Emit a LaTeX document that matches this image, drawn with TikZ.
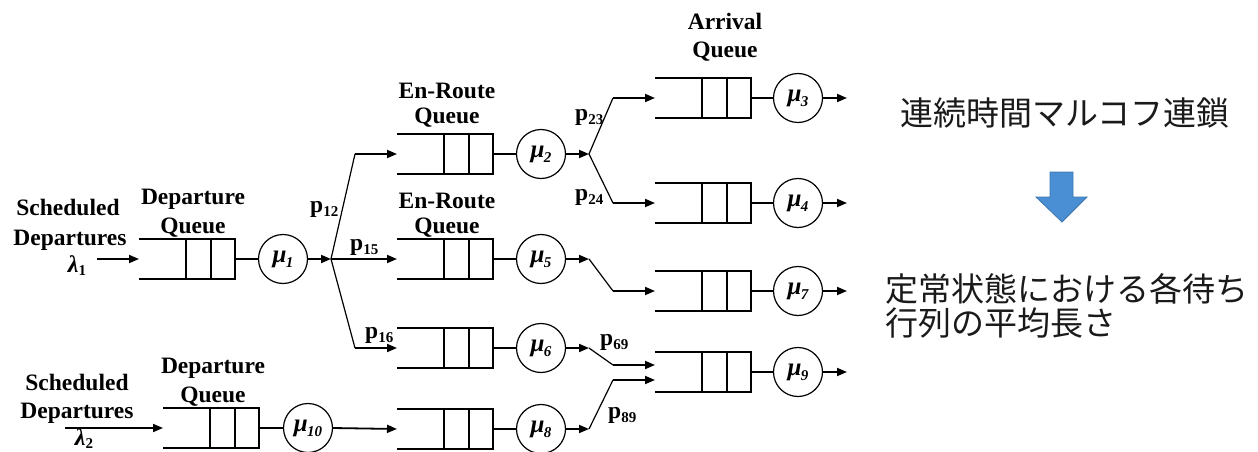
\documentclass[tikz,border=0pt]{standalone}
\usepackage{fontspec}
\setmainfont{Liberation Serif}
\newfontfamily\cjk{Noto Sans CJK JP}
\usetikzlibrary{arrows.meta}
\definecolor{arrowblue}{HTML}{4A8FD4}
\definecolor{arrowedge}{HTML}{3C76AE}
\definecolor{jptext}{HTML}{1A1A1A}
% server label: bold italic mu with a lowered index
\newcommand\srvlabel[1]{μ\kern-0.5pt\raisebox{-5pt}{\fontsize{15}{15}\selectfont #1}}
\newcommand\problabel[1]{p\raisebox{-4pt}{\fontsize{15}{15}\selectfont #1}}
\begin{document}
\begin{tikzpicture}[x=1pt,y=-1pt,
  qbox/.style={minimum width=96pt, minimum height=40pt, inner sep=0pt, outer sep=0pt},
  qline/.style={line width=1.3pt},
  server/.style={circle, draw, line width=1.2pt, minimum size=49pt, inner sep=0pt,
    outer sep=0pt, font=\fontsize{25}{25}\selectfont\bfseries\itshape},
  link/.style={line width=1.2pt},
  flow/.style={line width=1.8pt, -{Triangle[length=10pt,width=8pt]}},
  lbl/.style={font=\fontsize{23.5}{28}\selectfont\bfseries, inner sep=0pt, anchor=base},
  prob/.style={font=\fontsize{23.5}{28}\selectfont\bfseries, inner sep=0pt, anchor=base west},
  lam/.style={font=\fontsize{24}{24}\selectfont\bfseries, inner sep=0pt, anchor=base},
  jp/.style={font=\cjk\fontsize{33}{36}\selectfont, text=jptext, inner sep=0pt}]
\useasboundingbox (0,0) rectangle (1258,452);
\clip (0,0) rectangle (1258,452);

% queues: open on the left, two dividers near the server side
\foreach \n/\x/\y in {dq1/187/259, dq2/211/428, eq2/445/154, eq5/445/259,
    eq6/445/348, eq8/445/429, aq3/703/98, aq4/703/203, aq7/703/291, aq9/703/372} {
  \node[qbox] (\n) at (\x,\y) {};
  \draw[qline] (\n.north west) -- (\n.north east) -- (\n.south east) -- (\n.south west);
  \draw[qline] ([xshift=47pt]\n.north west) -- ([xshift=47pt]\n.south west)
               ([xshift=72pt]\n.north west) -- ([xshift=72pt]\n.south west);
}

% servers
\node[server] (s1)  at (283,259) {\srvlabel{1}};
\node[server] (s10) at (308,428) {\srvlabel{10}};
\node[server] (s2)  at (541,154) {\srvlabel{2}};
\node[server] (s5)  at (541,259) {\srvlabel{5}};
\node[server] (s6)  at (541,348) {\srvlabel{6}};
\node[server] (s8)  at (541,429) {\srvlabel{8}};
\node[server] (s3)  at (798,98)  {\srvlabel{3}};
\node[server] (s4)  at (798,203) {\srvlabel{4}};
\node[server] (s7)  at (798,291) {\srvlabel{7}};
\node[server] (s9)  at (798,372) {\srvlabel{9}};

% queue to server
\foreach \q/\s in {dq1/s1, dq2/s10, eq2/s2, eq5/s5, eq6/s6, eq8/s8,
    aq3/s3, aq4/s4, aq7/s7, aq9/s9}
  \draw[link] (\q.east) -- (\s.west);

% routing points
\coordinate (l1) at (97,259);
\coordinate (l2) at (65,428);
\coordinate (c1) at (331,259);
\coordinate (b12) at (355,154);
\coordinate (b16) at (355,348);
\coordinate (c2) at (589,154);
\coordinate (b23) at (613,98);
\coordinate (b24) at (613,203);
\coordinate (c5) at (589,259);
\coordinate (b5) at (613,291);
\coordinate (c6) at (589,348);
\coordinate (b6) at (613,365);
\coordinate (c8) at (589,429);
\coordinate (b8) at (613,380);
\coordinate (o3) at (847,98);
\coordinate (o4) at (847,203);
\coordinate (o7) at (847,291);
\coordinate (o9) at (847,372);

% arrivals of scheduled departures
\draw[flow] (l1) -- (dq1.west);
\draw[flow] (l2) -- (dq2.west);

% departure server 1 splits three ways
\draw[flow] (s1.east) -- (c1);
\draw[link] (c1) -- (b12);
\draw[flow] (b12) -- (eq2.west);
\draw[flow] (c1) -- (eq5.west);
\draw[link] (c1) -- (b16);
\draw[flow] (b16) -- (eq6.west);
\draw[flow] (s10.east) -- (eq8.west);

% en-route servers to arrival queues
\draw[flow] (s2.east) -- (c2);
\draw[link] (c2) -- (b23);
\draw[flow] (b23) -- (aq3.west);
\draw[link] (c2) -- (b24);
\draw[flow] (b24) -- (aq4.west);
\draw[flow] (s5.east) -- (c5);
\draw[link] (c5) -- (b5);
\draw[flow] (b5) -- (aq7.west);
\draw[flow] (s6.east) -- (c6);
\draw[link] (c6) -- (b6);
\draw[flow] (b6) -- ([yshift=7pt]aq9.west);
\draw[flow] (s8.east) -- (c8);
\draw[link] (c8) -- (b8);
\draw[flow] (b8) -- ([yshift=-8pt]aq9.west);

% departures from arrival servers
\draw[flow] (s3.east) -- (o3);
\draw[flow] (s4.east) -- (o4);
\draw[flow] (s7.east) -- (o7);
\draw[flow] (s9.east) -- (o9);

% labels
\node[lbl] (sd1a) at (68,215) {Scheduled};
\node[lbl] (sd1b) at (70,245) {Departures};
\node[lam] (lam1) at (77,272) {{\itshape λ}\raisebox{-3pt}{\fontsize{15}{15}\selectfont 1}};
\node[lbl] (dq1a) at (193,204) {Departure};
\node[lbl] (dq1b) at (193,233) {Queue};
\node[lbl] (sd2a) at (77,390) {Scheduled};
\node[lbl] (sd2b) at (77,418) {Departures};
\node[lam] (lam2) at (84,445) {{\itshape λ}\raisebox{-3pt}{\fontsize{15}{15}\selectfont 2}};
\node[lbl] (dq2a) at (213,373) {Departure};
\node[lbl] (dq2b) at (213,402) {Queue};
\node[lbl] (er1a) at (447,98) {En-Route};
\node[lbl] (er1b) at (447,123) {Queue};
\node[lbl] (er2a) at (447,208) {En-Route};
\node[lbl] (er2b) at (447,233) {Queue};
\node[lbl] (ara)  at (725,30) {Arrival};
\node[lbl] (arb)  at (725,58) {Queue};

\node[prob] (p12) at (310,212) {\problabel{12}};
\node[prob] (p15) at (350,250) {\problabel{15}};
\node[prob] (p16) at (365,338) {\problabel{16}};
\node[prob] (p23) at (575,120) {\problabel{23}};
\node[prob] (p24) at (575,200) {\problabel{24}};
\node[prob] (p69) at (600,345) {\problabel{69}};
\node[prob] (p89) at (608,418) {\problabel{89}};

% right-hand summary
\node[jp, anchor=base] (jp1) at (1065,125) {連続時間マルコフ連鎖};
\filldraw[fill=arrowblue, draw=arrowedge, line width=0.8pt]
  (1050,172) -- (1073,172) -- (1073,197) -- (1087,197) -- (1062,222)
  -- (1036,197) -- (1050,197) -- cycle;
\node[jp, anchor=base west] (jp2) at (885,301) {定常状態における各待ち};
\node[jp, anchor=base west] (jp3) at (885,335) {行列の平均長さ};
\end{tikzpicture}
\end{document}
